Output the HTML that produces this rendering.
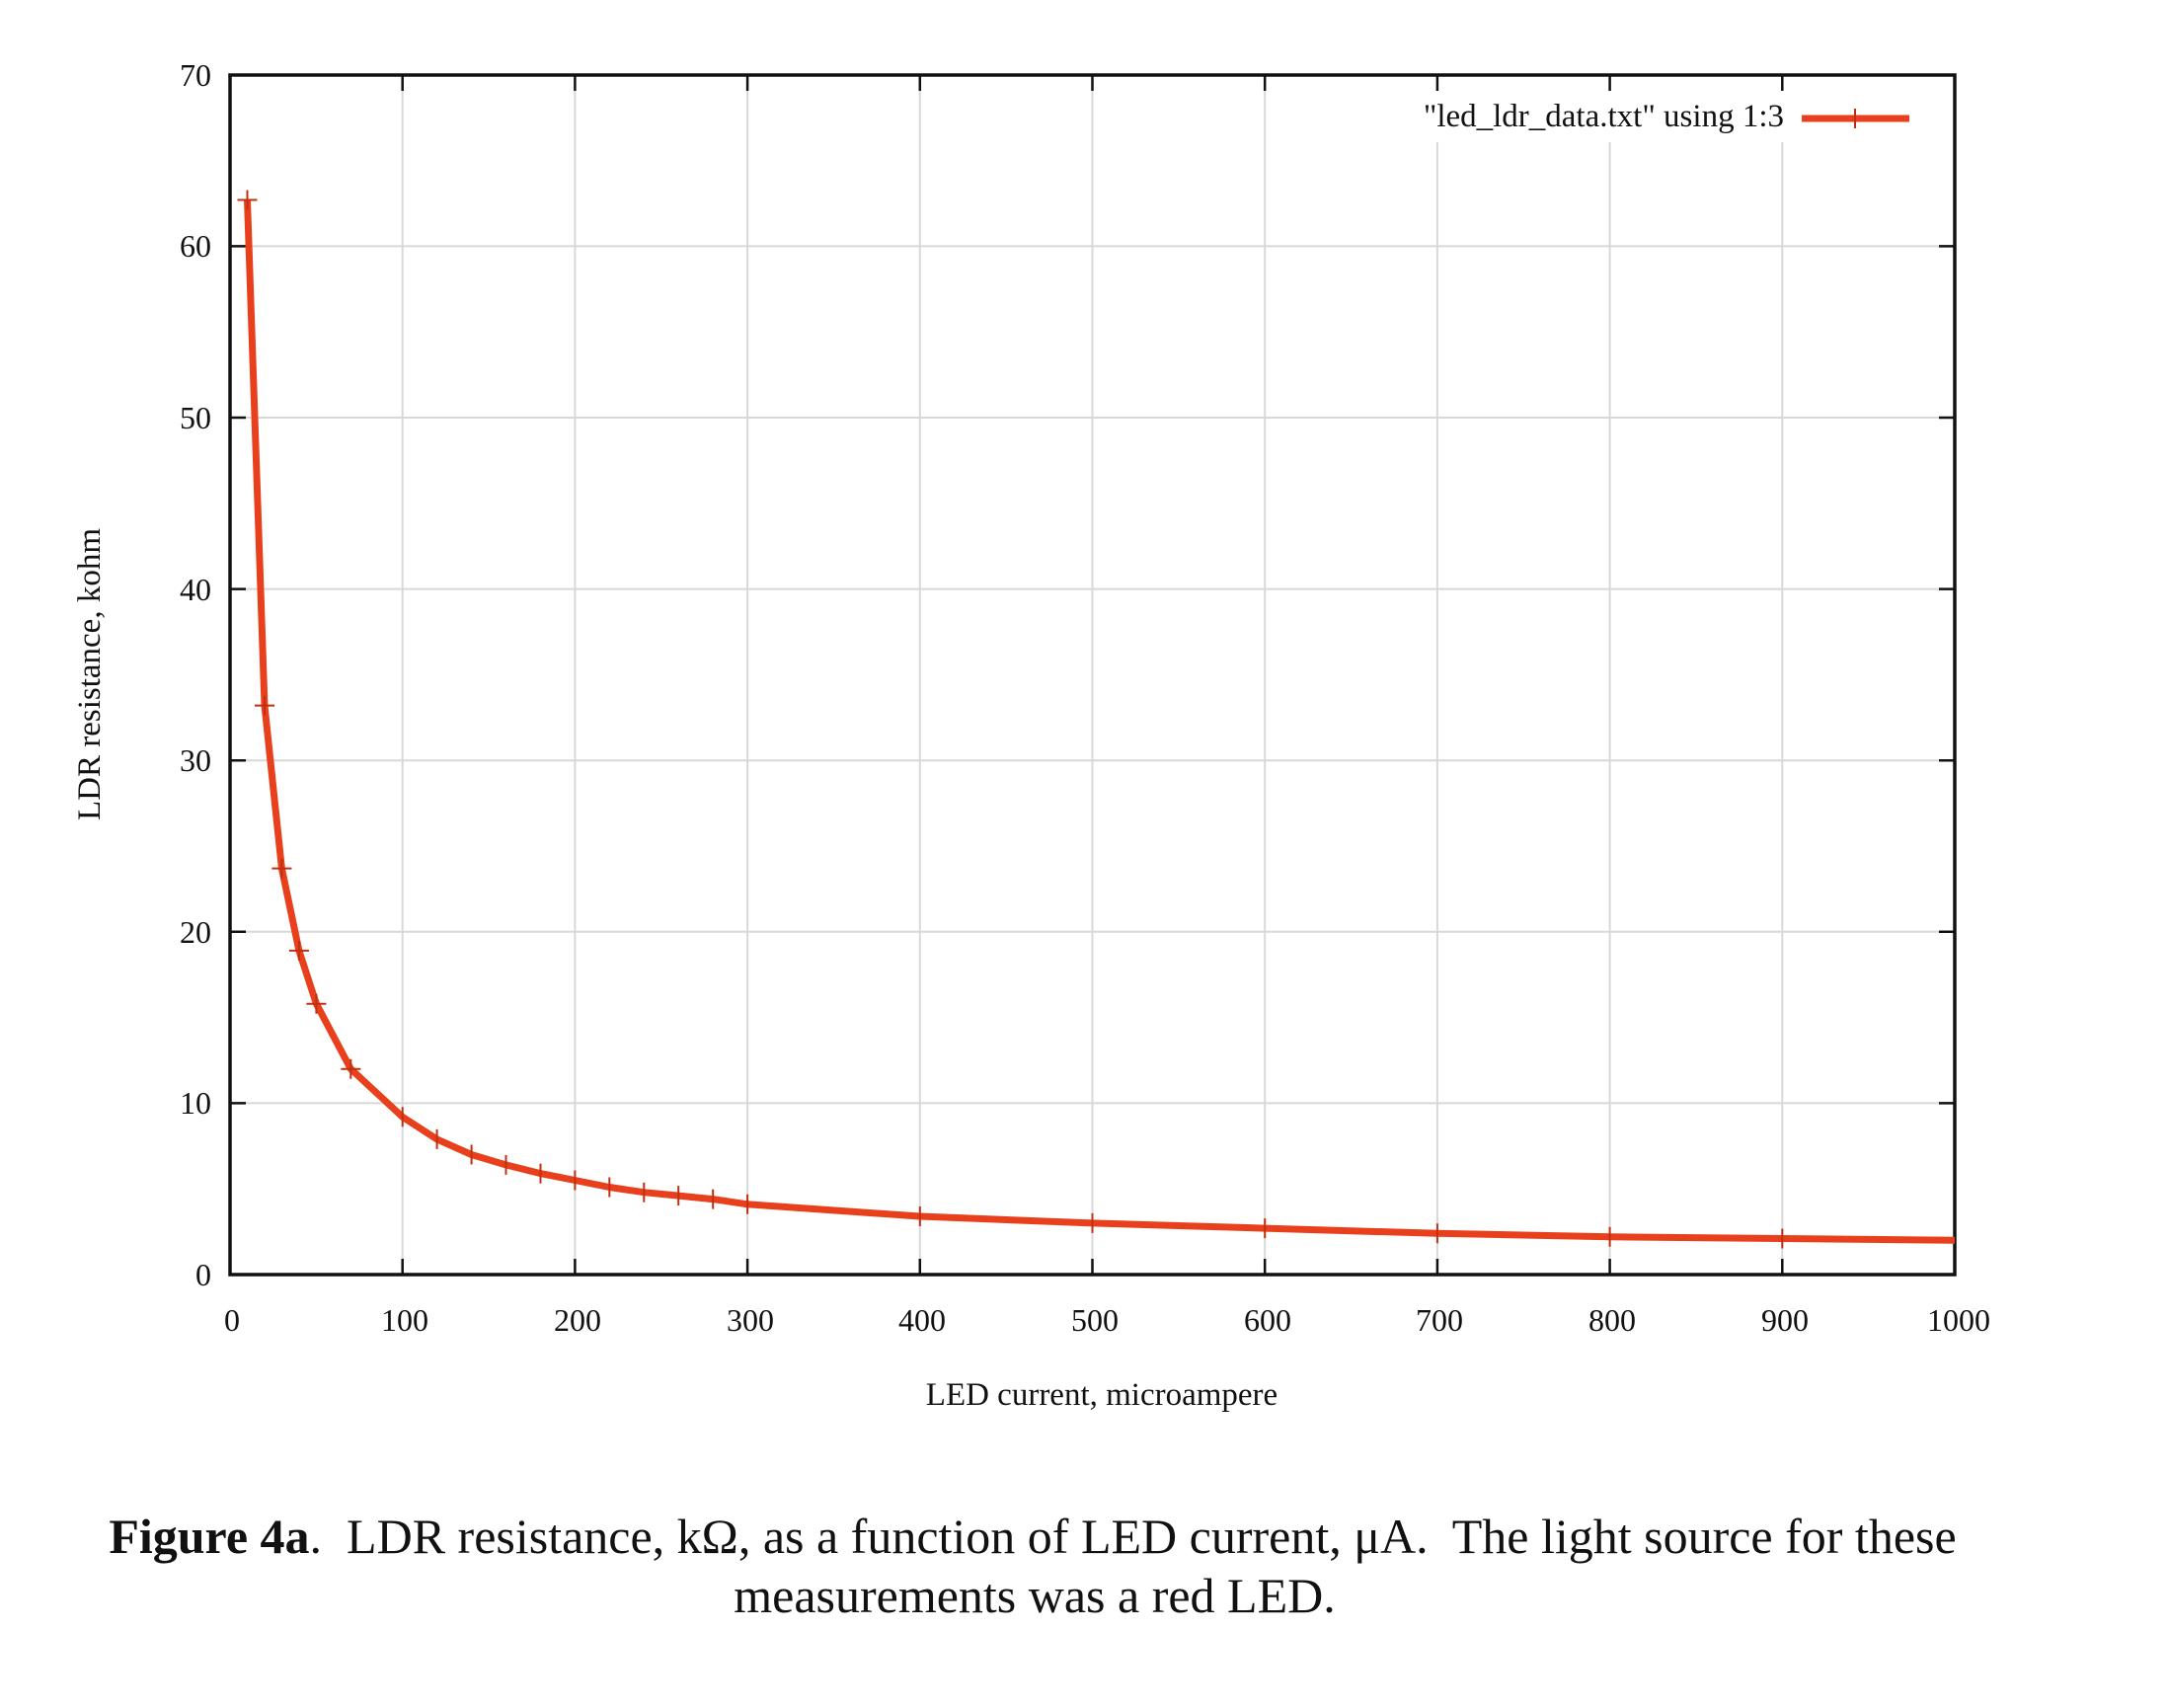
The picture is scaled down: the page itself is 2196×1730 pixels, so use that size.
<!DOCTYPE html>
<html><head><style>
html,body{margin:0;padding:0;background:#fff;}
svg{display:block;}
text{font-family:"Liberation Serif",serif;fill:#111;white-space:pre;}
</style></head><body>
<svg width="2196" height="1730" viewBox="0 0 2196 1730" xmlns="http://www.w3.org/2000/svg" xml:space="preserve">
<rect width="2196" height="1730" fill="#fff"/>
<g stroke="#d8d8d8" stroke-width="2">
<line x1="407.7" y1="76" x2="407.7" y2="1291"/>
<line x1="582.4" y1="76" x2="582.4" y2="1291"/>
<line x1="757.1" y1="76" x2="757.1" y2="1291"/>
<line x1="931.8" y1="76" x2="931.8" y2="1291"/>
<line x1="1106.5" y1="76" x2="1106.5" y2="1291"/>
<line x1="1281.2" y1="76" x2="1281.2" y2="1291"/>
<line x1="1455.9" y1="76" x2="1455.9" y2="1291"/>
<line x1="1630.6" y1="76" x2="1630.6" y2="1291"/>
<line x1="1805.3" y1="76" x2="1805.3" y2="1291"/>
<line x1="233" y1="1117.4" x2="1980" y2="1117.4"/>
<line x1="233" y1="943.8" x2="1980" y2="943.8"/>
<line x1="233" y1="770.2" x2="1980" y2="770.2"/>
<line x1="233" y1="596.6" x2="1980" y2="596.6"/>
<line x1="233" y1="423" x2="1980" y2="423"/>
<line x1="233" y1="249.4" x2="1980" y2="249.4"/>
</g>
<rect x="1420" y="78" width="558" height="66" fill="#fff"/>
<g stroke="#111" stroke-width="2.5">
<path d="M407.7 1291v-16M582.4 1291v-16M757.1 1291v-16M931.8 1291v-16M1106.5 1291v-16M1281.2 1291v-16M1455.9 1291v-16M1630.6 1291v-16M1805.3 1291v-16"/>
<path d="M407.7 76v16M582.4 76v16M757.1 76v16M931.8 76v16M1106.5 76v16M1281.2 76v16M1455.9 76v16M1630.6 76v16M1805.3 76v16"/>
<path d="M233 1117.4h16M233 943.8h16M233 770.2h16M233 596.6h16M233 423h16M233 249.4h16"/>
<path d="M1980 1117.4h-16M1980 943.8h-16M1980 770.2h-16M1980 596.6h-16M1980 423h-16M1980 249.4h-16"/>
</g>
<rect x="233" y="76" width="1747" height="1215" fill="none" stroke="#111" stroke-width="3.5"/>
<polyline fill="none" stroke="#e8401c" stroke-width="7" stroke-linejoin="round" points="250.5,202.5 268,714.6 285.4,879.6 302.9,962.9 320.4,1016.7 355.3,1082.7 407.7,1131.3 442.6,1153.9 477.6,1169.5 512.5,1179.9 547.5,1188.6 582.4,1195.5 617.3,1202.5 652.3,1207.7 687.2,1211.1 722.2,1214.6 757.1,1219.8 931.8,1232 1106.5,1238.9 1281.2,1244.1 1455.9,1249.3 1630.6,1252.8 1805.3,1254.5 1980,1256.3"/>
<g stroke="#c03010" stroke-width="2">
<path d="M250.5 192.5v20M240.5 202.5h20M268 704.6v20M258 714.6h20M285.4 869.6v20M275.4 879.6h20M302.9 952.9v20M292.9 962.9h20M320.4 1006.7v20M310.4 1016.7h20M355.3 1072.7v20M345.3 1082.7h20M407.7 1121.3v20M442.6 1143.9v20M477.6 1159.5v20M512.5 1169.9v20M547.5 1178.6v20M582.4 1185.5v20M617.3 1192.5v20M652.3 1197.7v20M687.2 1201.1v20M722.2 1204.6v20M757.1 1209.8v20M931.8 1222v20M1106.5 1228.9v20M1281.2 1234.1v20M1455.9 1239.3v20M1630.6 1242.8v20M1805.3 1244.5v20"/>
</g>
<line x1="1825" y1="120" x2="1934" y2="120" stroke="#e8401c" stroke-width="7"/>
<line x1="1879" y1="110" x2="1879" y2="130" stroke="#c03010" stroke-width="2"/>
<text x="1807" y="128" font-size="33" text-anchor="end">"led_ldr_data.txt" using 1:3</text>
<g font-size="32" text-anchor="end">
<text x="214" y="1302">0</text>
<text x="214" y="1128">10</text>
<text x="214" y="955">20</text>
<text x="214" y="781">30</text>
<text x="214" y="608">40</text>
<text x="214" y="434">50</text>
<text x="214" y="260">60</text>
<text x="214" y="87">70</text>
</g>
<g font-size="32" text-anchor="middle">
<text x="235" y="1348">0</text>
<text x="410" y="1348">100</text>
<text x="585" y="1348">200</text>
<text x="760" y="1348">300</text>
<text x="934" y="1348">400</text>
<text x="1109" y="1348">500</text>
<text x="1284" y="1348">600</text>
<text x="1458" y="1348">700</text>
<text x="1633" y="1348">800</text>
<text x="1808" y="1348">900</text>
<text x="1984" y="1348">1000</text>
</g>
<text x="1116" y="1423" font-size="33" text-anchor="middle">LED current, microampere</text>
<text transform="translate(101,683) rotate(-90)" font-size="33" text-anchor="middle">LDR resistance, kohm</text>
<text x="1046" y="1573" font-size="50" text-anchor="middle"><tspan font-weight="bold">Figure 4a</tspan>.  LDR resistance, kΩ, as a function of LED current, μA.  The light source for these</text>
<text x="1048" y="1633" font-size="50" text-anchor="middle">measurements was a red LED.</text>
</svg>
</body></html>
